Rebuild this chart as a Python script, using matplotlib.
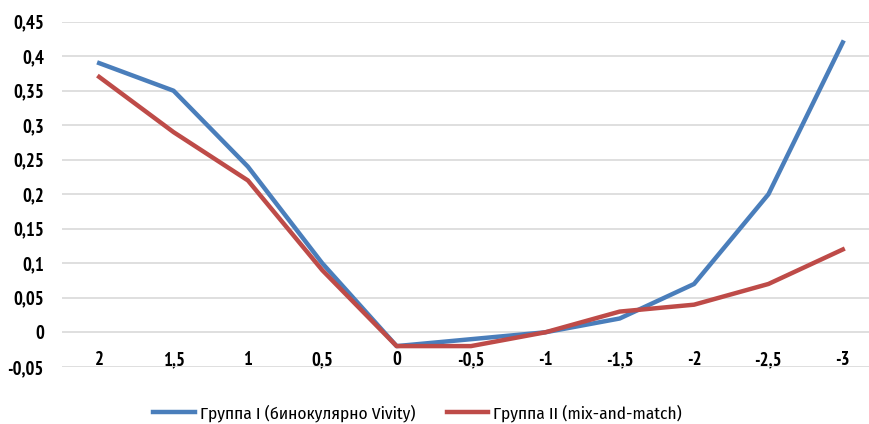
import matplotlib
matplotlib.use("Agg")
from matplotlib import pyplot as plt

plt.rcParams["font.family"] = ["PT Sans Narrow", "DejaVu Sans"]

categories = ["2", "1,5", "1", "0,5", "0", "-0,5", "-1", "-1,5", "-2", "-2,5", "-3"]
group1 = [0.39, 0.35, 0.24, 0.10, -0.02, -0.01, 0.0, 0.02, 0.07, 0.20, 0.42]
group2 = [0.37, 0.29, 0.22, 0.09, -0.02, -0.02, 0.0, 0.03, 0.04, 0.07, 0.12]
yticks = [-0.05, 0, 0.05, 0.1, 0.15, 0.2, 0.25, 0.3, 0.35, 0.4, 0.45]
ytick_labels = ["-0,05", "0", "0,05", "0,1", "0,15", "0,2", "0,25", "0,3", "0,35", "0,4", "0,45"]

fig = plt.figure(figsize=(8.7, 4.24), dpi=100)
ax = fig.add_axes([62 / 870, 57.2 / 424, 808 / 870, 345.1 / 424])

x = list(range(len(categories)))
ax.plot(x, group1, color="#4A7EBB", lw=3.2, label="Группа I (бинокулярно Vivity)")
ax.plot(x, group2, color="#BE4B48", lw=3.2, label="Группа II (mix-and-match)")

ax.set_ylim(-0.05, 0.45)
ax.set_xlim(-0.5, 10.366)
ax.set_yticks(yticks)
ax.set_yticklabels(ytick_labels, fontsize=13.5, fontweight="bold")
ax.set_xticks(x)
ax.set_xticklabels(categories, fontsize=13.5, fontweight="bold", va="baseline")
ax.tick_params(axis="y", length=0, pad=13)
ax.tick_params(axis="x", length=0, pad=-1)
ax.grid(axis="y", color="#D9D9D9", lw=1.2)
ax.set_axisbelow(True)
for s in ax.spines.values():
    s.set_visible(False)

fig.legend(loc="center", bbox_to_anchor=(417.5 / 870, 1 - 413 / 424), ncol=2, frameon=False,
           prop={"family": ["Fira Sans Condensed", "DejaVu Sans"], "size": 12.5},
           handlelength=2.4, columnspacing=1.8, handletextpad=0.3)

fig.savefig("out.png", dpi=100)
